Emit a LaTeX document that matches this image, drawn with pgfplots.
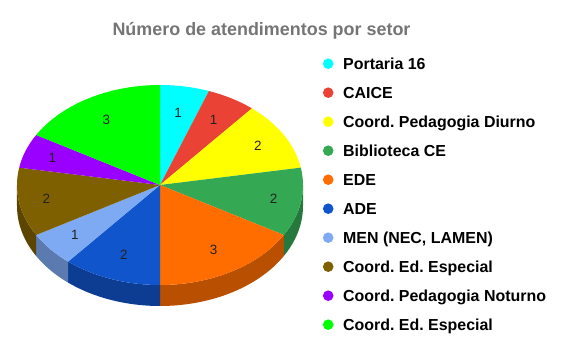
\documentclass[border=0pt]{standalone}
\usepackage{pgfplots}
\usepackage{pgfplotstable}
\pgfplotsset{compat=1.18}
\usepackage{fontspec}
\setmainfont{Liberation Sans}
\frenchspacing
\definecolor{cA}{HTML}{00FFFF}
\definecolor{cB}{HTML}{EA4335}
\definecolor{cC}{HTML}{FFFF00}
\definecolor{cD}{HTML}{34A853}
\definecolor{cE}{HTML}{FF6D01}
\definecolor{cF}{HTML}{1155CC}
\definecolor{cG}{HTML}{7EAAF4}
\definecolor{cH}{HTML}{7F6000}
\definecolor{cI}{HTML}{9900FF}
\definecolor{cJ}{HTML}{00FF00}
\definecolor{titlegray}{HTML}{757575}
\definecolor{labc}{HTML}{222222}

\pgfplotstableread{
value col
1 cA
1 cB
2 cC
2 cD
3 cE
2 cF
1 cG
2 cH
1 cI
3 cJ
}\piedata

\begin{document}
\begin{tikzpicture}
\begin{axis}[width=575bp, height=357bp, scale only axis,
  xmin=0, xmax=575, ymin=0, ymax=357, hide axis, clip=false,
  legend image code/.code={\fill (0bp,0bp) circle[radius=5.3bp];},
  legend style={at={(axis cs:322.7,308)}, anchor=north west, draw=none, fill=none,
    inner sep=0pt, row sep=0pt, column sep=9.7bp,
    font=\bfseries\fontsize{16}{18}\selectfont,
    nodes={text height=20bp, text depth=9bp, inner sep=0pt}},
  legend cell align=left]
\addlegendimage{fill=cA, draw=none}\addlegendentry{Portaria 16}
\addlegendimage{fill=cB, draw=none}\addlegendentry{CAICE}
\addlegendimage{fill=cC, draw=none}\addlegendentry{Coord. Pedagogia Diurno}
\addlegendimage{fill=cD, draw=none}\addlegendentry{Biblioteca CE}
\addlegendimage{fill=cE, draw=none}\addlegendentry{EDE}
\addlegendimage{fill=cF, draw=none}\addlegendentry{ADE}
\addlegendimage{fill=cG, draw=none}\addlegendentry{MEN (NEC, LAMEN)}
\addlegendimage{fill=cH, draw=none}\addlegendentry{Coord. Ed. Especial}
\addlegendimage{fill=cI, draw=none}\addlegendentry{Coord. Pedagogia Noturno}
\addlegendimage{fill=cJ, draw=none}\addlegendentry{Coord. Ed. Especial}
\pgfplotsextra{
  \path (axis cs:0,0) rectangle (axis cs:575,357);
  \node[anchor=base, font=\bfseries\fontsize{18}{20}\selectfont, text=titlegray]
    at (axis cs:261.5,321) {Número de atendimentos por setor};
  \pgfplotstablegetrowsof{\piedata}\pgfmathtruncatemacro\NN{\pgfplotsretval-1}
  \gdef\tot{0}
  \foreach \i in {0,...,\NN}{%
    \pgfplotstablegetelem{\i}{value}\of\piedata
    \pgfmathsetmacro\tt{\tot+\pgfplotsretval}\xdef\tot{\tt}}
  % side walls
  \gdef\cum{0}
  \foreach \i in {0,...,\NN}{%
    \pgfplotstablegetelem{\i}{value}\of\piedata \let\vv\pgfplotsretval
    \pgfplotstablegetelem{\i}{col}\of\piedata \let\colname\pgfplotsretval
    \pgfmathsetmacro\sa{90-360*\cum/\tot}
    \pgfmathsetmacro\sb{90-360*(\cum+\vv)/\tot}
    \pgfmathsetmacro\hi{min(\sa,0)}
    \pgfmathsetmacro\lo{max(\sb,-180)}
    \pgfmathtruncatemacro\ok{\lo<\hi ? 1 : 0}
    \ifnum\ok=1
      \fill[\colname!72!black] (axis cs:{160+143*cos(\hi)},{172+100*sin(\hi)})
        arc[start angle=\hi, end angle=\lo, x radius=143bp, y radius=100bp]
        -- ++(0,-21bp)
        arc[start angle=\lo, end angle=\hi, x radius=143bp, y radius=100bp] -- cycle;
    \fi
    \pgfmathsetmacro\nn{\cum+\vv}\xdef\cum{\nn}}
  % top
  \gdef\cum{0}
  \foreach \i in {0,...,\NN}{%
    \pgfplotstablegetelem{\i}{value}\of\piedata \let\vv\pgfplotsretval
    \pgfplotstablegetelem{\i}{col}\of\piedata \let\colname\pgfplotsretval
    \pgfmathsetmacro\sa{90-360*\cum/\tot}
    \pgfmathsetmacro\sb{90-360*(\cum+\vv)/\tot}
    \fill[\colname] (axis cs:160,172) -- (axis cs:{160+143*cos(\sa)},{172+100*sin(\sa)})
        arc[start angle=\sa, end angle=\sb, x radius=143bp, y radius=100bp] -- cycle;
    \pgfmathsetmacro\nn{\cum+\vv}\xdef\cum{\nn}}
  % labels
  \gdef\cum{0}
  \foreach \i in {0,...,\NN}{%
    \pgfplotstablegetelem{\i}{value}\of\piedata \let\vv\pgfplotsretval
    \pgfmathsetmacro\mm{90-360*(\cum+\vv/2)/\tot}
    \pgfmathsetmacro\ff{0.73+0.08*cos(\mm)^2}
    \node[font=\fontsize{13.5}{15}\selectfont, text=labc, inner sep=0pt]
      at (axis cs:{160+\ff*143*cos(\mm)},{172+\ff*100*sin(\mm)}) {\vv};
    \pgfmathsetmacro\nn{\cum+\vv}\xdef\cum{\nn}}
}
\end{axis}
\end{tikzpicture}
\end{document}
